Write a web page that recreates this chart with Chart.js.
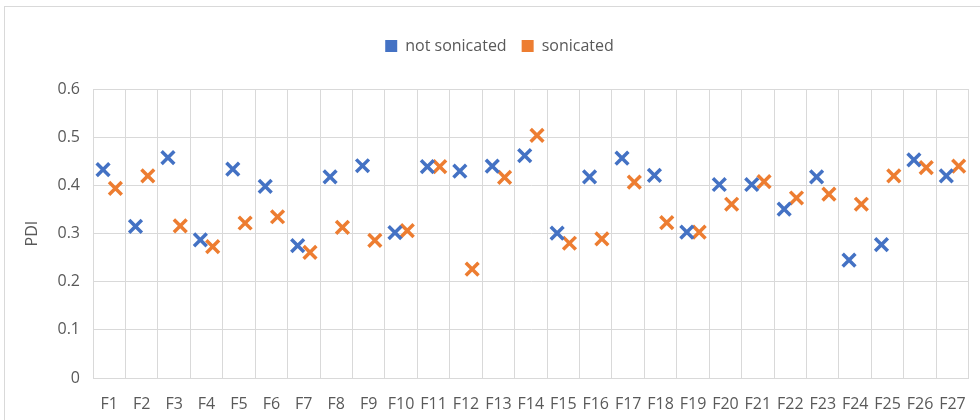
<!DOCTYPE html>
<html>
<head>
<meta charset="utf-8">
<script src="https://cdn.jsdelivr.net/npm/chart.js@4/dist/chart.umd.min.js"></script>
<style>
  html, body { margin: 0; padding: 0; background: #fff; }
  #wrap { position: absolute; left: 4px; top: 6px; width: 980px; height: 420px; border: 1px solid #d9d9d9; box-sizing: border-box; }
  canvas { display: block; }
</style>
</head>
<body>
<div id="wrap"><canvas id="pdiChart" width="978" height="418"></canvas></div>
<script>
// formulation labels along the x axis
const formulations = ['F1','F2','F3','F4','F5','F6','F7','F8','F9','F10','F11','F12','F13','F14',
  'F15','F16','F17','F18','F19','F20','F21','F22','F23','F24','F25','F26','F27'];

// PDI values
const notSonicated = [0.433, 0.315, 0.458, 0.287, 0.434, 0.398, 0.275, 0.418, 0.441, 0.302,
  0.439, 0.430, 0.440, 0.462, 0.301, 0.418, 0.457, 0.421, 0.303, 0.402,
  0.402, 0.351, 0.418, 0.245, 0.277, 0.453, 0.420];
const sonicated = [0.394, 0.420, 0.316, 0.273, 0.322, 0.335, 0.261, 0.313, 0.286, 0.306,
  0.439, 0.226, 0.417, 0.504, 0.280, 0.289, 0.407, 0.323, 0.303, 0.361,
  0.408, 0.374, 0.382, 0.361, 0.420, 0.437, 0.440];

const yTicks = [0, 0.1, 0.2, 0.3, 0.4, 0.5, 0.6];

const blue = '#4472C4';
const orange = '#ED7D31';
const textColor = '#595959';
const gridColor = '#d9d9d9';

// points sit left/right of the category centre, like clustered markers
const shift = 0.19;
const toPoints = (vals, dx) => vals.map((v, i) => ({ x: i + 1 + dx, y: v }));

const markerStyle = (color) => ({
  xAxisID: 'xp',
  pointStyle: 'crossRot',
  pointRadius: 9,
  borderWidth: 3.5,
  borderColor: color,
  backgroundColor: color
});

const ctx = document.getElementById('pdiChart').getContext('2d');
new Chart(ctx, {
  type: 'scatter',
  data: {
    labels: formulations,
    datasets: [
      Object.assign({ label: 'not sonicated', data: toPoints(notSonicated, -shift) }, markerStyle(blue)),
      Object.assign({ label: 'sonicated', data: toPoints(sonicated, shift) }, markerStyle(orange))
    ]
  },
  options: {
    responsive: false,
    animation: false,
    layout: { padding: { top: 16, right: 7, left: 18, bottom: 0 } },
    plugins: {
      tooltip: { enabled: false },
      // empty spacer under the legend
      subtitle: {
        display: true,
        text: ' ',
        weight: 500,
        font: { size: 1 },
        padding: { top: 0, bottom: 24 }
      },
      legend: {
        position: 'top',
        labels: {
          color: textColor,
          font: { family: 'Open Sans', size: 16 },
          boxWidth: 12,
          boxHeight: 12,
          padding: 15,
          generateLabels: (chart) => chart.data.datasets.map((ds, i) => ({
            text: ds.label,
            fillStyle: ds.borderColor,
            strokeStyle: ds.borderColor,
            lineWidth: 0,
            fontColor: textColor,
            datasetIndex: i
          }))
        }
      }
    },
    scales: {
      x: {
        type: 'category',
        labels: formulations,
        offset: true,
        afterFit: (scale) => { scale.height = 47; },
        grid: { offset: true, color: gridColor, drawTicks: false },
        border: { color: gridColor },
        ticks: { color: textColor, font: { family: 'Open Sans', size: 16 }, padding: 17, maxRotation: 0, autoSkip: false }
      },
      xp: {
        type: 'linear',
        min: 0.5,
        max: 27.5,
        display: false
      },
      y: {
        min: 0,
        max: 0.6,
        afterBuildTicks: (scale) => { scale.ticks = yTicks.map(v => ({ value: v })); },
        afterFit: (scale) => { scale.width = 70; },
        grid: { color: gridColor, drawTicks: false },
        border: { color: gridColor },
        ticks: {
          color: textColor,
          font: { family: 'Open Sans', size: 16 },
          padding: 13,
          callback: (v) => v === 0 ? '0' : v.toFixed(1)
        },
        title: {
          display: true,
          text: 'PDI',
          color: textColor,
          font: { family: 'Open Sans', size: 16 },
          padding: { top: 0, bottom: 0 }
        }
      }
    }
  }
});
</script>
</body>
</html>
